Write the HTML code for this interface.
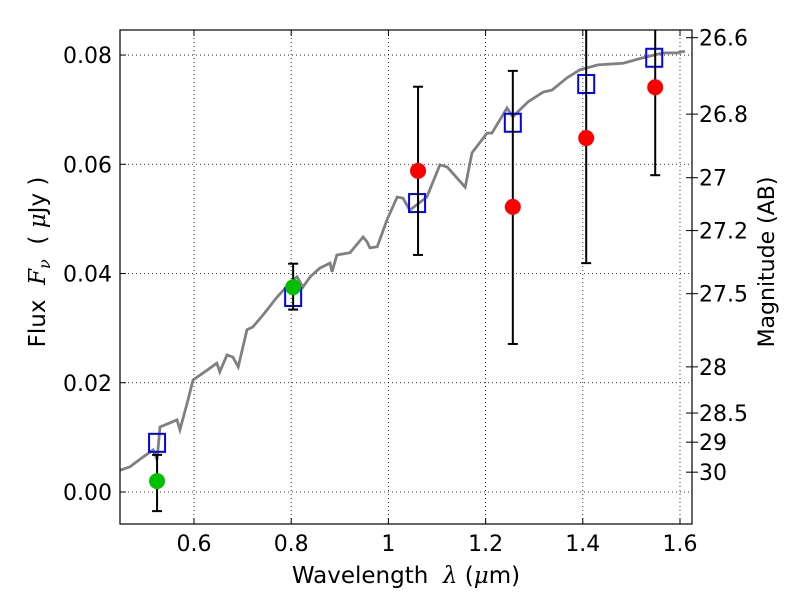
<!DOCTYPE html>
<html><head><meta charset="utf-8"><style>
body{margin:0;background:#fff;}
svg{font-family:"DejaVu Sans","Liberation Sans",sans-serif;}
</style></head><body>
<svg id="chart" width="800" height="600" xmlns="http://www.w3.org/2000/svg"></svg>
<script>
const xTicks=[0.6,0.8,1.0,1.2,1.4,1.6];
const xTickLabels=["0.6","0.8","1","1.2","1.4","1.6"];
const yTicks=[0,0.02,0.04,0.06,0.08];
const yTickLabels=["0.00","0.02","0.04","0.06","0.08"];
const magTicks=[26.6,26.8,27,27.2,27.5,28,28.5,29,30];
const magLabels=["26.6","26.8","27","27.2","27.5","28","28.5","29","30"];
const modelLam=[0.448,0.468,0.495,0.516,0.524,0.530,0.565,0.571,0.586,0.598,0.627,0.647,0.653,0.668,0.680,0.691,0.709,0.721,0.742,0.771,0.798,0.812,0.824,0.839,0.859,0.880,0.884,0.894,0.921,0.948,0.956,0.962,0.977,0.997,1.018,1.030,1.044,1.079,1.106,1.121,1.158,1.172,1.203,1.213,1.244,1.256,1.287,1.318,1.337,1.367,1.394,1.431,1.483,1.524,1.565,1.594,1.610];
const modelFlux=[0.0040,0.0046,0.0064,0.0077,0.0059,0.0119,0.0132,0.0114,0.0163,0.0205,0.0223,0.0236,0.0220,0.0251,0.0247,0.0229,0.0297,0.0302,0.0324,0.0357,0.0383,0.0394,0.0375,0.0394,0.0410,0.0419,0.0403,0.0434,0.0438,0.0467,0.0458,0.0447,0.0449,0.0498,0.0540,0.0538,0.0516,0.0540,0.0599,0.0595,0.0558,0.0621,0.0657,0.0657,0.0703,0.0687,0.0714,0.0732,0.0736,0.0758,0.0773,0.0782,0.0785,0.0795,0.0804,0.0804,0.0807];
const bandLam=[0.524,0.804,1.059,1.256,1.407,1.547];
const modelBandFlux=[0.0090,0.0357,0.0529,0.0676,0.0747,0.0795];
const greenLam=[0.524,0.804];
const greenFlux=[0.0020,0.0375];
const greenLo=[-0.0035,0.0334];
const greenHi=[0.0068,0.0418];
const redLam=[1.061,1.256,1.407,1.549];
const redFlux=[0.0588,0.0522,0.0648,0.0741];
const redLo=[0.0434,0.0271,0.0419,0.0580];
const redHi=[0.0742,0.0771,0.0900,0.0855];

const L=120,R=692,T=30,B=524;
const x=v=>194+(v-0.6)*486;
const y=v=>492-v*5462;
const NS="http://www.w3.org/2000/svg";
const svg=document.getElementById('chart');
function mk(tag,attrs,parent){const e=document.createElementNS(NS,tag);for(const k in attrs)e.setAttribute(k,attrs[k]);(parent||svg).appendChild(e);return e;}
const defs=mk('defs',{});const cp=mk('clipPath',{id:'pc'},defs);mk('rect',{x:L,y:T,width:R-L,height:B-T},cp);
const grid=mk('g',{stroke:'#000','stroke-width':0.8,'stroke-dasharray':'1,3'});


xTicks.forEach(t=>mk('line',{x1:x(t),x2:x(t),y1:T,y2:B},grid));
yTicks.forEach(t=>mk('line',{x1:L,x2:R,y1:y(t),y2:y(t)},grid));
const plot=mk('g',{'clip-path':'url(#pc)'});
const line=mk('polyline',{points:modelLam.map((l,i)=>x(l)+','+y(modelFlux[i])).join(' '),fill:'none',stroke:'#808080','stroke-width':2.8},plot);


function errbar(l,lo,hi){const g=mk('g',{stroke:'#000','stroke-width':2},plot);


mk('line',{x1:x(l),x2:x(l),y1:y(lo),y2:y(hi)},g);mk('line',{x1:x(l)-5,x2:x(l)+5,y1:y(lo),y2:y(lo)},g);mk('line',{x1:x(l)-5,x2:x(l)+5,y1:y(hi),y2:y(hi)},g);}
bandLam.forEach((l,i)=>{const r=mk('rect',{x:x(l)-8,y:y(modelBandFlux[i])-9,width:16,height:18,fill:'none',stroke:'#0000ff','stroke-width':2},plot);

});
greenLam.forEach((l,i)=>{errbar(l,greenLo[i],greenHi[i]);const c=mk('circle',{cx:x(l),cy:y(greenFlux[i]),r:8,fill:'#00c000'},plot);

});
redLam.forEach((l,i)=>{errbar(l,redLo[i],redHi[i]);const c=mk('circle',{cx:x(l),cy:y(redFlux[i]),r:8,fill:'#ff0000'},plot);

});
const frame=mk('rect',{x:L,y:T,width:R-L,height:B-T,fill:'none',stroke:'#000','stroke-width':1.2});


const ax=mk('g',{stroke:'#000','stroke-width':1});
xTicks.forEach((t,i)=>{mk('line',{x1:x(t),x2:x(t),y1:B,y2:B-6},ax);mk('line',{x1:x(t),x2:x(t),y1:T,y2:T+6},ax);
const tx=mk('text',{x:x(t),y:B+27,'text-anchor':'middle','font-size':22,stroke:'none'});tx.textContent=xTickLabels[i];

});
yTicks.forEach((t,i)=>{mk('line',{x1:L,x2:L+6,y1:y(t),y2:y(t)},ax);
const tx=mk('text',{x:L-8,y:y(t)+8,'text-anchor':'end','font-size':22,stroke:'none'});tx.textContent=yTickLabels[i];

});
magTicks.forEach((m,i)=>{const py=y(Math.pow(10,(23.9-m)/2.5));mk('line',{x1:R-6,x2:R+6,y1:py,y2:py},ax);
const tx=mk('text',{x:R+7,y:py+8,'font-size':22,stroke:'none'});tx.textContent=magLabels[i];

});
const xt=mk('text',{x:406,y:583,'text-anchor':'middle','font-size':23});xt.innerHTML='Wavelength &#160;<tspan font-style="italic" font-family="DejaVu Serif">λ</tspan> (<tspan font-style="italic" font-family="DejaVu Serif">μ</tspan>m)';


const yt=mk('text',{transform:'translate(45,262) rotate(-90)','text-anchor':'middle','font-size':23});yt.innerHTML='Flux &#160;<tspan font-style="italic" font-family="DejaVu Serif">F</tspan><tspan font-style="italic" font-family="DejaVu Serif" font-size="16" dy="5">ν</tspan><tspan dy="-5"> &#160;( </tspan><tspan font-style="italic" font-family="DejaVu Serif">μ</tspan>Jy )';


const rt=mk('text',{transform:'translate(774,262) rotate(-90)','text-anchor':'middle','font-size':22});rt.textContent='Magnitude (AB)';


</script>
</body></html>
